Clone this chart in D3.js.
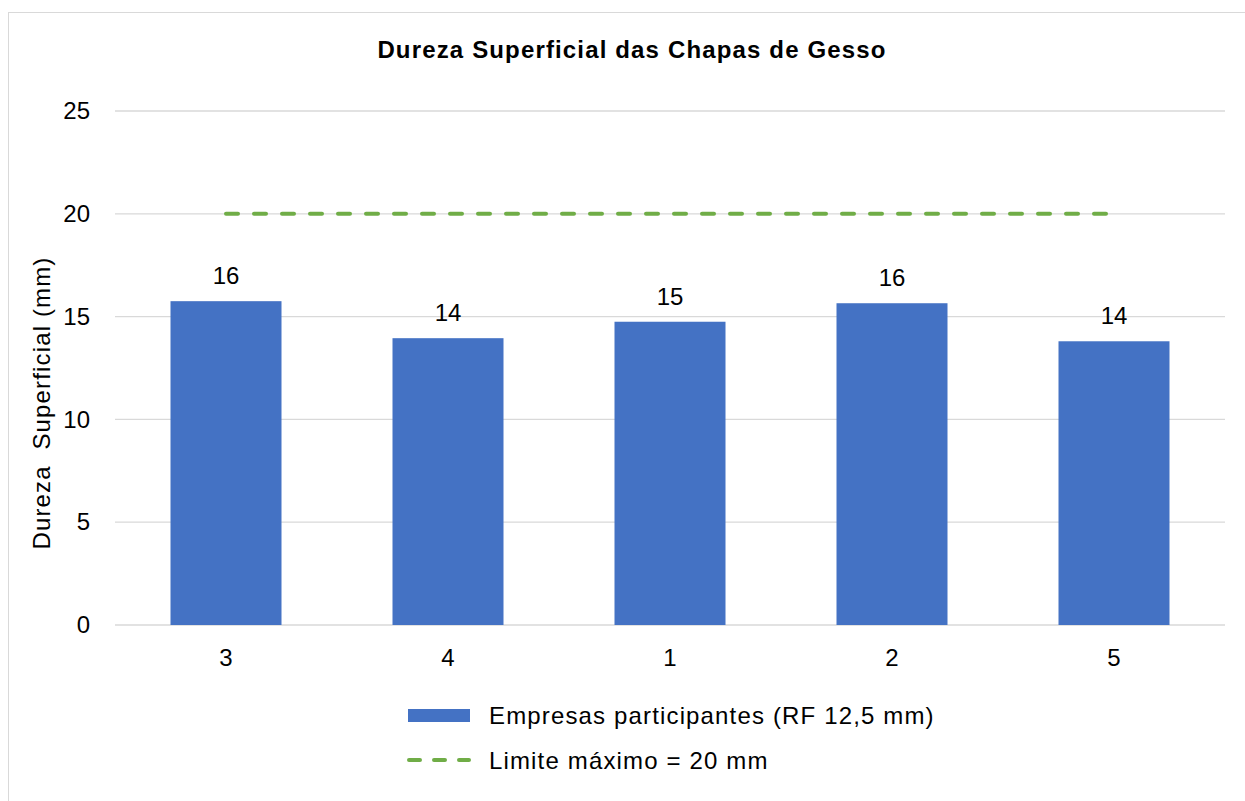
<!DOCTYPE html>
<html>
<meta charset="utf-8">
<title>Dureza Superficial das Chapas de Gesso</title>
<style>
	body {
		margin: 0;
		background: #fff;
		font-family: "Liberation Sans", Arial, sans-serif;
	}

	.grid line {
		stroke: #d9d9d9;
		stroke-width: 1.3;
	}

	.axis text {
		font-size: 24px;
		fill: #000;
		font-family: "Liberation Sans", Arial, sans-serif;
	}

	.txt {
		font-size: 24px;
		letter-spacing: 1.15px;
		white-space: pre;
	}
</style>

<body>
	<div id="chart"></div>

	<script src="https://cdnjs.cloudflare.com/ajax/libs/d3/7.8.5/d3.min.js"></script>

	<script>
		// data
		var empresas = ["3", "4", "1", "2", "5"];
		var dureza = [15.75, 13.95, 14.75, 15.65, 13.8];
		var limite = 20;
		var yTicks = [0, 5, 10, 15, 20, 25];

		var W = 1245, H = 801;
		var margin = { top: 111, right: 20, bottom: 176, left: 115 },
			width = 1225 - margin.left,
			height = 625 - margin.top;

		var svg = d3.select("#chart").append("svg")
			.attr("width", W)
			.attr("height", H);

		// chart frame
		svg.append("rect")
			.attr("x", 8.5)
			.attr("y", 12.5)
			.attr("width", 1240)
			.attr("height", 800)
			.attr("fill", "#fff")
			.attr("stroke", "#d9d9d9");

		svg.append("text")
			.attr("class", "txt")
			.attr("x", 632)
			.attr("y", 58)
			.attr("text-anchor", "middle")
			.style("font-weight", "bold")
			.text("Dureza Superficial das Chapas de Gesso");

		var g = svg.append("g")
			.attr("transform", "translate(" + margin.left + "," + margin.top + ")");

		var x = d3.scaleBand()
			.domain(empresas)
			.range([0, width])
			.paddingInner(0.5)
			.paddingOuter(0.25);

		var y = d3.scaleLinear()
			.domain([0, 25])
			.range([height, 0]);

		// gridlines
		g.append("g")
			.attr("class", "grid")
			.selectAll("line")
			.data(yTicks)
			.enter().append("line")
			.attr("x1", 0)
			.attr("x2", width)
			.attr("y1", function (d) { return y(d); })
			.attr("y2", function (d) { return y(d); });

		// y axis labels
		var yAxis = g.append("g")
			.attr("class", "axis")
			.call(d3.axisLeft(y).tickValues(yTicks).tickSize(0).tickPadding(25));
		yAxis.select(".domain").remove();

		// x axis labels
		var xAxis = g.append("g")
			.attr("class", "axis")
			.attr("transform", "translate(0," + height + ")")
			.call(d3.axisBottom(x).tickSize(0).tickPadding(24));
		xAxis.select(".domain").remove();

		svg.append("text")
			.attr("class", "txt")
			.attr("transform", "translate(50," + 403 + ") rotate(-90)")
			.attr("text-anchor", "middle")
			.text("Dureza  Superficial (mm)");

		// bars
		g.selectAll(".bar")
			.data(dureza)
			.enter().append("rect")
			.attr("class", "bar")
			.attr("x", function (d, i) { return x(empresas[i]); })
			.attr("width", x.bandwidth())
			.attr("y", function (d) { return y(d); })
			.attr("height", function (d) { return height - y(d); })
			.attr("fill", "#4472c4");

		g.selectAll(".label")
			.data(dureza)
			.enter().append("text")
			.attr("class", "label")
			.attr("x", function (d, i) { return x(empresas[i]) + x.bandwidth() / 2; })
			.attr("y", function (d) { return y(d) - 17; })
			.attr("text-anchor", "middle")
			.style("font-size", "24px")
			.text(function (d) { return d3.format(".0f")(d); });

		// limit line
		g.append("line")
			.attr("x1", x(empresas[0]) + x.bandwidth() / 2)
			.attr("x2", x(empresas[empresas.length - 1]) + x.bandwidth() / 2 - 6)
			.attr("y1", y(limite))
			.attr("y2", y(limite))
			.attr("stroke", "#70ad47")
			.attr("stroke-width", 4)
			.attr("stroke-linecap", "round")
			.attr("stroke-dasharray", "12,16");

		// legend
		var legend = svg.append("g");
		legend.append("rect")
			.attr("x", 408)
			.attr("y", 709)
			.attr("width", 62)
			.attr("height", 13)
			.attr("fill", "#4472c4");
		legend.append("text")
			.attr("class", "txt")
			.attr("x", 489)
			.attr("y", 724)
			.text("Empresas participantes (RF 12,5 mm)");
		legend.append("line")
			.attr("x1", 409)
			.attr("x2", 469)
			.attr("y1", 760)
			.attr("y2", 760)
			.attr("stroke", "#70ad47")
			.attr("stroke-width", 4)
			.attr("stroke-linecap", "round")
			.attr("stroke-dasharray", "11,14");
		legend.append("text")
			.attr("class", "txt")
			.attr("x", 489)
			.attr("y", 769)
			.text("Limite máximo = 20 mm");
	</script>
</body>
</html>
